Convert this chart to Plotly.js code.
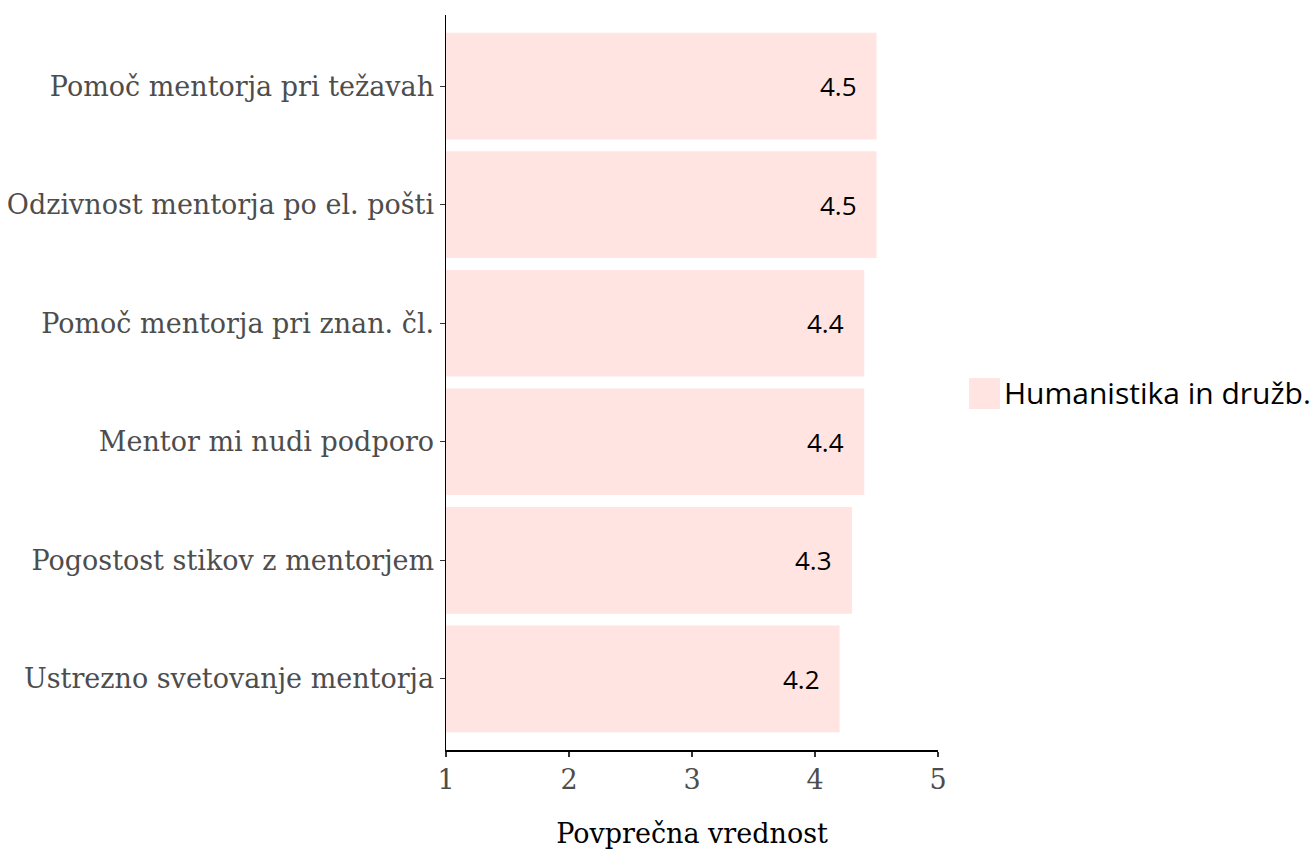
<!DOCTYPE html>
<html>
<head>
<meta charset="utf-8">
<script src="https://cdn.plot.ly/plotly-3.0.1.min.js"></script>
<style>html,body{margin:0;padding:0;background:#fff;}#chart{width:1314px;height:852px;}</style>
</head>
<body>
<div id="chart"></div>
<script>
// Data (bottom to top)
const categories = [
  "Ustrezno svetovanje mentorja",
  "Pogostost stikov z mentorjem",
  "Mentor mi nudi podporo",
  "Pomoč mentorja pri znan. čl.",
  "Odzivnost mentorja po el. pošti",
  "Pomoč mentorja pri težavah"
];
const values = [4.2, 4.3, 4.4, 4.4, 4.5, 4.5];
const seriesName = "Humanistika in družb.";
const xTicks = [1, 2, 3, 4, 5];
const xTitle = "Povprečna vrednost";

const barColor = "#FFE4E1";
const serif = "DejaVu Serif, serif";
const sans = "Open Sans, Noto Sans, sans-serif";

const trace = {
  type: "bar",
  orientation: "h",
  y: categories,
  x: values,
  width: 0.9,
  marker: {color: barColor, line: {width: 0}},
  name: seriesName,
  showlegend: false,
  hoverinfo: "none"
};

const labelAnnotations = values.map((v, i) => ({
  x: v, y: categories[i], xref: "x", yref: "y",
  text: v.toFixed(1), showarrow: false,
  xanchor: "right", yanchor: "middle", xshift: -18,
  font: {family: sans, size: 26, color: "#000"}
}));

const layout = {
  width: 1314, height: 852,
  margin: {l: 446, r: 376, t: 15, b: 102, pad: 0},
  paper_bgcolor: "#fff", plot_bgcolor: "#fff",
  showlegend: false,
  xaxis: {
    range: [1, 5], tickvals: xTicks, ticktext: xTicks.map(String),
    showgrid: false, zeroline: false,
    showline: true, linecolor: "#000", linewidth: 1.5,
    ticks: "outside", ticklen: 5, tickwidth: 1.2, tickcolor: "#333",
    tickfont: {family: serif, size: 27, color: "#4D4D4D"},
    title: {text: xTitle, font: {family: serif, size: 27, color: "#000"}, standoff: 30},
    fixedrange: true
  },
  yaxis: {
    type: "category", categoryorder: "array", categoryarray: categories,
    range: [-0.6, 5.6],
    showgrid: false, zeroline: false,
    showline: true, linecolor: "#000", linewidth: 1.5,
    ticks: "outside", ticklen: 5, tickwidth: 1.2, tickcolor: "#333",
    tickfont: {family: serif, size: 27, color: "#4D4D4D"},
    fixedrange: true
  },
  shapes: [{
    type: "rect", xref: "paper", yref: "paper",
    x0: 1.063, x1: 1.126, y0: 0.464, y1: 0.506,
    fillcolor: barColor, line: {width: 0}
  }],
  annotations: labelAnnotations.concat([{
    xref: "paper", yref: "paper", x: 1.13, y: 0.486,
    xanchor: "left", yanchor: "middle", showarrow: false,
    text: seriesName, font: {family: sans, size: 30, color: "#000"}
  }])
};

Plotly.newPlot("chart", [trace], layout, {displayModeBar: false, staticPlot: true});
</script>
</body>
</html>
